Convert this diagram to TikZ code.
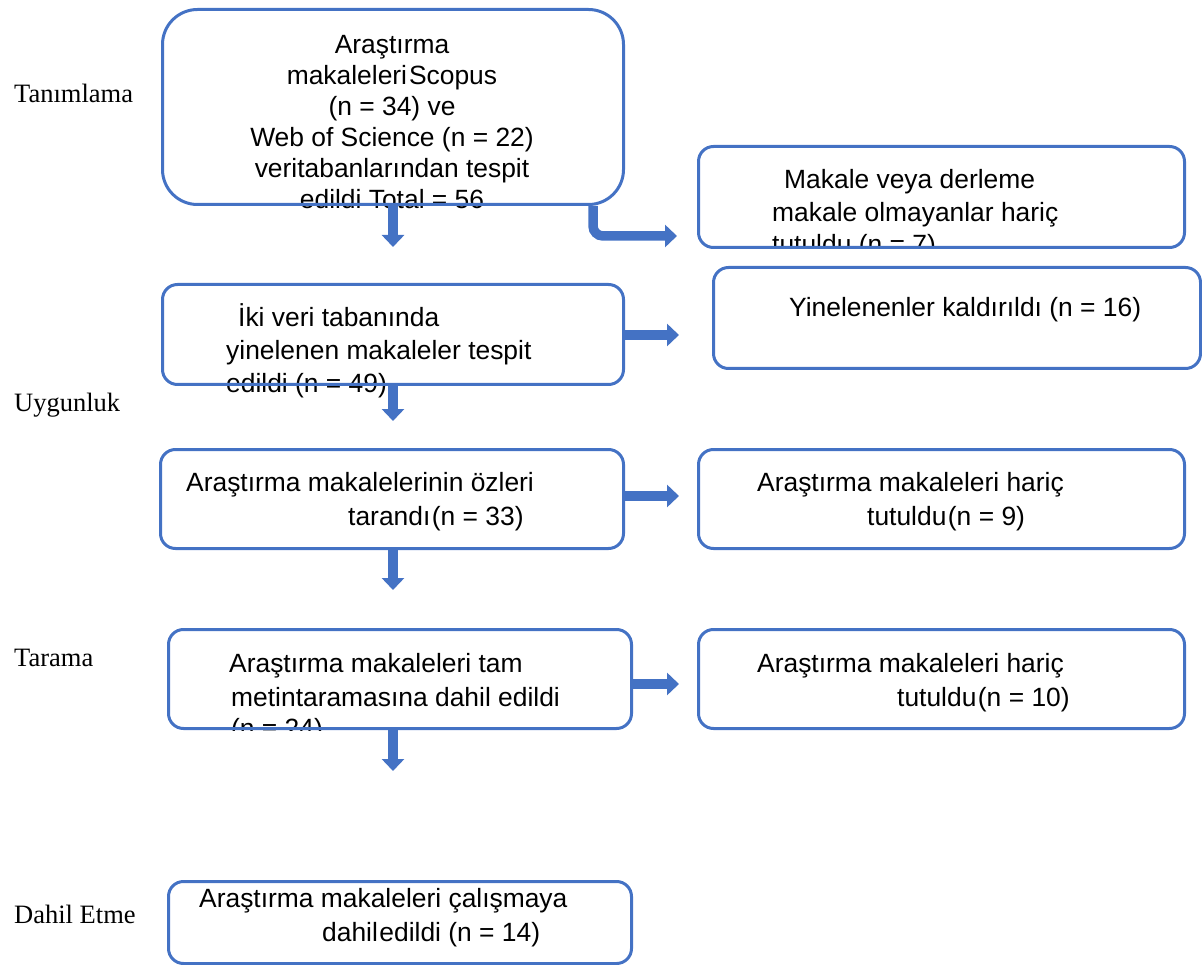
\documentclass[tikz,border=0pt]{standalone}
\usepackage{fontspec}
\setmainfont{Liberation Serif}
\newfontfamily\arialf{Liberation Sans}
\usetikzlibrary{arrows.meta}
\definecolor{obl}{HTML}{4472C4}
\pgfdeclarelayer{fg}
\pgfsetlayers{main,fg}
\begin{document}
\begin{tikzpicture}[x=1pt,y=-1pt,
 box/.style={draw=obl, line width=3pt, rounded corners=15pt, inner sep=0pt, anchor=north west},
 txt/.style={font=\arialf\fontsize{26.4}{33}\selectfont, anchor=base west, inner sep=0pt},
 ctxt/.style={txt, anchor=base},
 lab/.style={font=\fontsize{26.5}{30}\selectfont, anchor=base west, inner sep=0pt},
 flow/.style={draw=obl, line width=9.5pt, -{Triangle[width=22pt,length=12pt]}},
]
\useasboundingbox (0,0) rectangle (1202,965);

% stage labels
\node[lab] (l1) at (14,103) {Tanımlama};
\node[lab] (l2) at (14,411) {Uygunluk};
\node[lab] (l3) at (14,666) {Tarama};
\node[lab] (l4) at (14,923) {Dahil Etme};

% boxes (on foreground layer)
\begin{pgfonlayer}{fg}
\node[box, rounded corners=35pt, minimum width=461pt, minimum height=195pt] (A) at (161,8) {};
\node[box, minimum width=486pt, minimum height=101pt] (B) at (697,145) {};
\node[box, minimum width=461pt, minimum height=100pt] (C) at (161,283) {};
\node[box, minimum width=487pt, minimum height=101pt] (D) at (712,266) {};
\node[box, minimum width=463pt, minimum height=99pt] (E) at (159,448) {};
\node[box, minimum width=486pt, minimum height=99pt] (F) at (697,448) {};
\node[box, minimum width=463pt, minimum height=99pt] (G) at (167,628) {};
\node[box, minimum width=486pt, minimum height=99pt] (H) at (697,628) {};
\node[box, minimum width=463pt, minimum height=82pt] (I) at (167,880) {};
\end{pgfonlayer}

% texts of A
\node[ctxt] (a1) at (392,54) {Araştırma};
\node[ctxt] (a2) at (392,85) {makaleleri\kern2pt Scopus};
\node[ctxt] (a3) at (392,116) {(n = 34) ve};
\node[ctxt] (a4) at (392,147) {Web of Science (n = 22)};
\node[ctxt] (a5) at (392,178) {veritabanlarından tespit};
\node[ctxt] (a6) at (392,209) {edildi Total = 56};

% texts of B
\node[txt] (b1) at (784,189) {Makale veya derleme};
\node[txt] (b2) at (772,222) {makale olmayanlar hariç};
\begin{scope}
\clip (B.north west) rectangle (B.south east);
\node[txt] (b3) at (772,254) {tutuldu (n = 7)};
\end{scope}

% texts of C
\node[txt] (c1) at (238,327) {İki veri tabanında};
\node[txt] (c2) at (226,360) {yinelenen makaleler tespit};
\node[txt] (c3) at (226,392) {edildi (n = 49)};

% text of D
\node[txt] (d1) at (789,317) {Yinelenenler kaldırıldı (n = 16)};

% texts of E
\node[txt] (e1) at (186,491) {Araştırma makalelerinin özleri};
\node[txt] (e2) at (348,525) {tarandı\kern1.5pt(n = 33)};

% texts of F
\node[txt] (f1) at (757,491) {Araştırma makaleleri hariç};
\node[txt] (f2) at (867,525) {tutuldu\kern1.5pt(n = 9)};

% texts of G
\node[txt] (g1) at (229,672) {Araştırma makaleleri tam};
\node[txt] (g2) at (231,706) {metintaramasına dahil edildi};
\begin{scope}
\clip (G.north west) rectangle (G.south east);
\node[txt] (g3) at (231,737) {(n = 24)};
\end{scope}

% texts of H
\node[txt] (h1) at (757,672) {Araştırma makaleleri hariç};
\node[txt] (h2) at (897,706) {tutuldu\kern1.5pt(n = 10)};

% texts of I
\node[txt] (i1) at (199,907) {Araştırma makaleleri çalışmaya};
\node[txt] (i2) at (322,941) {dahil\kern1.5pt edildi (n = 14)};

% connector end points
\coordinate (tA) at (393,247);
\coordinate (hA) at (593,0);
\coordinate (tB) at (677,236);
\coordinate (tC) at (679,335);
\coordinate (dC) at (393,421);
\coordinate (tE) at (679,496);
\coordinate (dE) at (393,590);
\coordinate (tG) at (679,684);
\coordinate (dG) at (393,771);

% connectors
\draw[flow] (A.south -| tA) -- (tA);
\draw[flow, rounded corners=10pt] (A.south -| hA) |- (tB);
\draw[flow] (C.east |- tC) -- (tC);
\draw[flow] (C.south -| dC) -- (dC);
\draw[flow] (E.east |- tE) -- (tE);
\draw[flow] (E.south -| dE) -- (dE);
\draw[flow] (G.east |- tG) -- (tG);
\draw[flow] (G.south -| dG) -- (dG);
\end{tikzpicture}
\end{document}
